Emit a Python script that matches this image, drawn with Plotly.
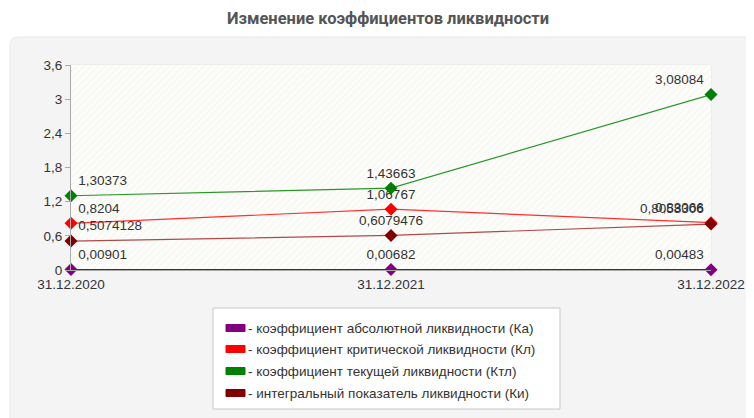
import plotly.graph_objects as go

dates = ["31.12.2020", "31.12.2021", "31.12.2022"]
ka = [0.00901, 0.00682, 0.00483]
kl = [0.8204, 1.06767, 0.83066]
ktl = [1.30373, 1.43663, 3.08084]
ki = [0.5074128, 0.6079476, 0.8058306]
ka_txt = ["0,00901", "0,00682", "0,00483"]
kl_txt = ["0,8204", "1,06767", "0,83066"]
ktl_txt = ["1,30373", "1,43663", "3,08084"]
ki_txt = ["0,5074128", "0,6079476", "0,8058306"]
names = ["- коэффициент абсолютной ликвидности (Ка)",
         "- коэффициент критической ликвидности (Кл)",
         "- коэффициент текущей ликвидности (Ктл)",
         "- интегральный показатель ликвидности (Ки)"]
colors = ["#800080", "#ff0000", "#008000", "#800000"]
line_colors = ["#800080", "#ff3030", "#2a962a", "#b04a4a"]
y_ticks = [0, 0.6, 1.2, 1.8, 2.4, 3, 3.6]
y_max = 3.6

OFF = 8  # page body margin
W, H = 754 - 2 * OFF, 418 - OFF
pl, pr, pt, pb = 71 - OFF, 711 - OFF, 65 - OFF, 270 - OFF
FS = 13.5

fig = go.Figure()
xs = list(range(len(dates)))

# hatched plot background
fig.add_trace(go.Scatter(
    x=[xs[0], xs[-1], xs[-1], xs[0], xs[0]], y=[0, 0, y_max, y_max, 0],
    mode="lines", line=dict(width=0), fill="toself", fillcolor="#fbfcf7",
    fillpattern=dict(shape="/", fgcolor="#e0e0e0", bgcolor="#fcfdf9", size=5, solidity=0.15),
    hoverinfo="skip", showlegend=False))

positions = ["top right", "top center", "top left"]
series = [(ka, ka_txt), (kl, kl_txt), (ktl, ktl_txt), (ki, ki_txt)]
for i, (vals, txt) in enumerate(series):
    fig.add_trace(go.Scatter(
        x=xs, y=vals, mode="lines+markers+text", name=names[i],
        line=dict(color=line_colors[i], width=1.2),
        marker=dict(symbol="diamond", size=10, color=colors[i]),
        text=txt, textposition=positions, textfont=dict(size=FS, color="#333"),
        cliponaxis=False, showlegend=False))

def ppx(x): return (x - OFF - pl) / (pr - pl)
def ppy(y): return (pb - (y - OFF)) / (pb - pt)

shapes = []
# grey panel with rounded top-left corner
a, b, c, d = ppx(10), ppy(430), ppx(770), ppy(37)
rx, ry = ppx(18) - ppx(10), ppy(37) - ppy(45)
shapes.append(dict(type="path", xref="paper", yref="paper", layer="below",
    path=f"M {a+rx},{d} L {c},{d} L {c},{b} L {a},{b} L {a},{d-ry} Q {a},{d} {a+rx},{d} Z",
    fillcolor="#f4f4f4", line=dict(color="#e8e8e8", width=1)))
# light plot border top/right
shapes.append(dict(type="rect", xref="paper", yref="paper", x0=0, x1=1, y0=0, y1=1,
    line=dict(color="#e6e6e6", width=1), layer="below"))

# legend box (custom)
lx0, lx1, ly0, ly1 = 213, 560, 308, 409
shapes.append(dict(type="rect", xref="paper", yref="paper",
    x0=ppx(lx0), x1=ppx(lx1), y0=ppy(ly1), y1=ppy(ly0),
    fillcolor="white", line=dict(color="#c8c8c8", width=1)))
annotations = []
ys = [328, 349, 371, 393]
for i, n in enumerate(names):
    shapes.append(dict(type="rect", xref="paper", yref="paper",
        x0=ppx(226), x1=ppx(245), y0=ppy(ys[i] + 3.5), y1=ppy(ys[i] - 3.5),
        fillcolor=colors[i], line=dict(color=colors[i], width=1)))
    annotations.append(dict(xref="paper", yref="paper", x=ppx(246), y=ppy(ys[i]),
        text=n, showarrow=False, xanchor="left", yanchor="middle",
        font=dict(size=FS, color="#333")))

fig.update_layout(
    width=W, height=H,
    margin=dict(l=pl, r=W - pr, t=pt, b=H - pb, autoexpand=False),
    paper_bgcolor="white", plot_bgcolor="#fcfdf9",
    separators=", ",
    font=dict(family="Liberation Sans, Arial, sans-serif", size=FS, color="#333"),
    title=dict(text="<b>Изменение коэффициентов ликвидности</b>", x=(388 - OFF) / W, xanchor="center",
               y=1 - (18 - OFF) / H, yanchor="middle",
               font=dict(family="Roboto, sans-serif", size=16.5, color="#555")),
    showlegend=False,
    xaxis=dict(tickmode="array", tickvals=xs, ticktext=dates, range=[xs[0], xs[-1]],
               showgrid=True, gridcolor="#dddddd", griddash="dash", zeroline=False,
               showline=True, linecolor="#aaaaaa", ticks="", ticklabelstandoff=2,
               tickfont=dict(size=FS, color="#333")),
    yaxis=dict(tickvals=y_ticks, range=[0, y_max], showgrid=True, gridcolor="#dddddd",
               griddash="dash", zeroline=False, showline=True, linecolor="#aaaaaa",
               ticks="outside", ticklen=5, tickcolor="#aaaaaa", tickfont=dict(size=FS, color="#333")),
    shapes=shapes, annotations=annotations,
)

fig.write_html("out.html")
